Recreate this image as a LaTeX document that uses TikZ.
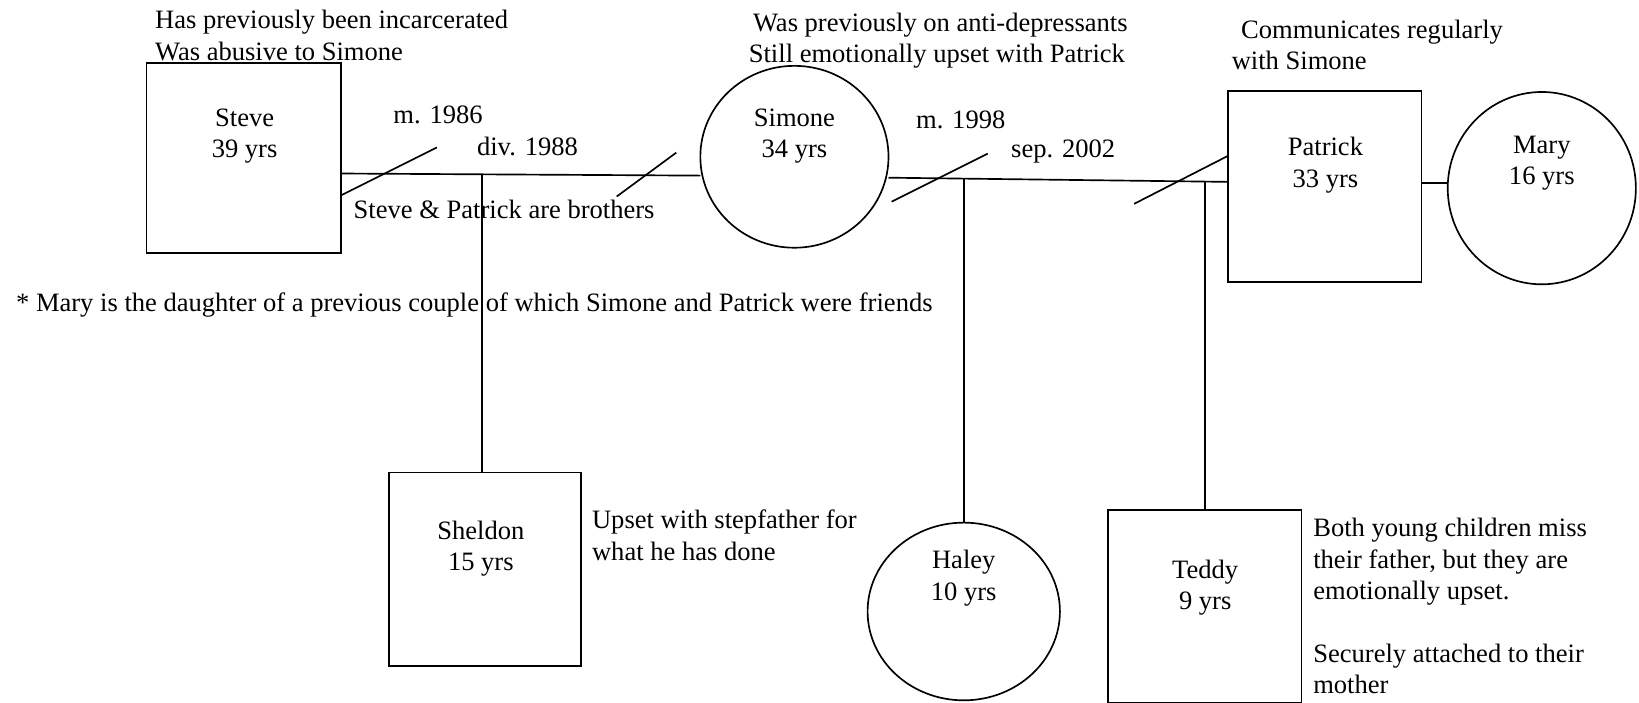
\documentclass[tikz,border=0pt]{standalone}
\usepackage{fontspec}
\setmainfont{Liberation Serif}
\usetikzlibrary{shapes.geometric}
\begin{document}
\begin{tikzpicture}[x=0.5pt,y=-0.5pt,
  every node/.style={font=\fontsize{12.7}{15}\selectfont},
  person/.style={draw, line width=0.8pt, inner sep=0pt, outer sep=0pt},
  male/.style={person, rectangle},
  female/.style={person, ellipse},
  agetext/.style={align=center, inner sep=0pt},
  notetext/.style={align=left, anchor=west, inner sep=0pt},
  rel/.style={line width=0.8pt}
]
\useasboundingbox (0,0) rectangle (1568,672);

% people
\node[male, minimum width=93pt, minimum height=91pt] (steve) at (233,151) {};
\node[female, minimum width=90pt, minimum height=87pt] (simone) at (760,150) {};
\node[male, minimum width=92.5pt, minimum height=91.5pt] (patrick) at (1267.5,178.5) {};
\node[female, minimum width=90pt, minimum height=92pt] (mary) at (1475,180) {};
\node[male, minimum width=92pt, minimum height=92.5pt] (sheldon) at (464,544.5) {};
\node[female, minimum width=92pt, minimum height=85pt] (haley) at (922,585) {};
\node[male, minimum width=92.5pt, minimum height=92pt] (teddy) at (1152.5,580) {};

% names and ages
\node[agetext] (steveT) at (234,130) {Steve\\39 yrs};
\node[agetext] (simoneT) at (760,130) {Simone\\34 yrs};
\node[agetext] (patrickT) at (1268,158) {Patrick\\33 yrs};
\node[agetext] (maryT) at (1475,156) {Mary\\16 yrs};
\node[agetext] (sheldonT) at (460,525) {Sheldon\\15 yrs};
\node[agetext] (haleyT) at (922,553) {Haley\\10 yrs};
\node[agetext] (teddyT) at (1153,562) {Teddy\\9 yrs};

% partnership lines
\coordinate (u1) at (461,167);
\coordinate (u2) at (922,171);
\coordinate (u3) at (1153,173);
\draw[rel] (steve.east |- 0,166) -- (simone.west |- 0,168);
\draw[rel] (simone.east |- 0,170) -- (patrick.west |- 0,174);
\draw[rel] (patrick.east |- 0,175) -- (mary.west |- 0,175);

% children
\draw[rel] (sheldon.north -| u1) -- (u1);
\draw[rel] (haley.north) -- (u2);
\draw[rel] (teddy.north) -- (teddy.north |- u3);

% marriage / separation marks
\draw[rel] (326,187) -- (418,141);
\draw[rel] (590,188) -- (647,146);
\draw[rel] (853,193) -- (945,147);
\draw[rel] (1085,195) -- (1175,149);

% dates
\node[notetext] (m86) at (376,110) {m. 1986};
\node[notetext] (d88) at (456,140) {div. 1988};
\node[notetext] (m98) at (876,115) {m. 1998};
\node[notetext] (s02) at (967,145) {sep. 2002};

% notes
\node[notetext] (n1) at (148,34) {Has previously been incarcerated\\Was abusive to Simone};
\node[notetext] (n2) at (716,39) {\hspace*{2pt}Was previously on anti-depressants\\Still emotionally upset with Patrick};
\node[notetext] (n3) at (1178,43) {\hspace*{4.5pt}Communicates regularly\\with Simone};
\node[notetext] (n4) at (338,200) {Steve \& Patrick are brothers};
\node[notetext] (n5) at (15,292) {* Mary is the daughter of a previous couple of which Simone and Patrick were friends};
\node[notetext] (n6) at (566,512) {Upset with stepfather for\\what he has done};
\node[notetext] (n7) at (1256,580) {Both young children miss\\their father, but they are\\emotionally upset.\\[15pt]Securely attached to their\\mother};
\end{tikzpicture}
\end{document}
